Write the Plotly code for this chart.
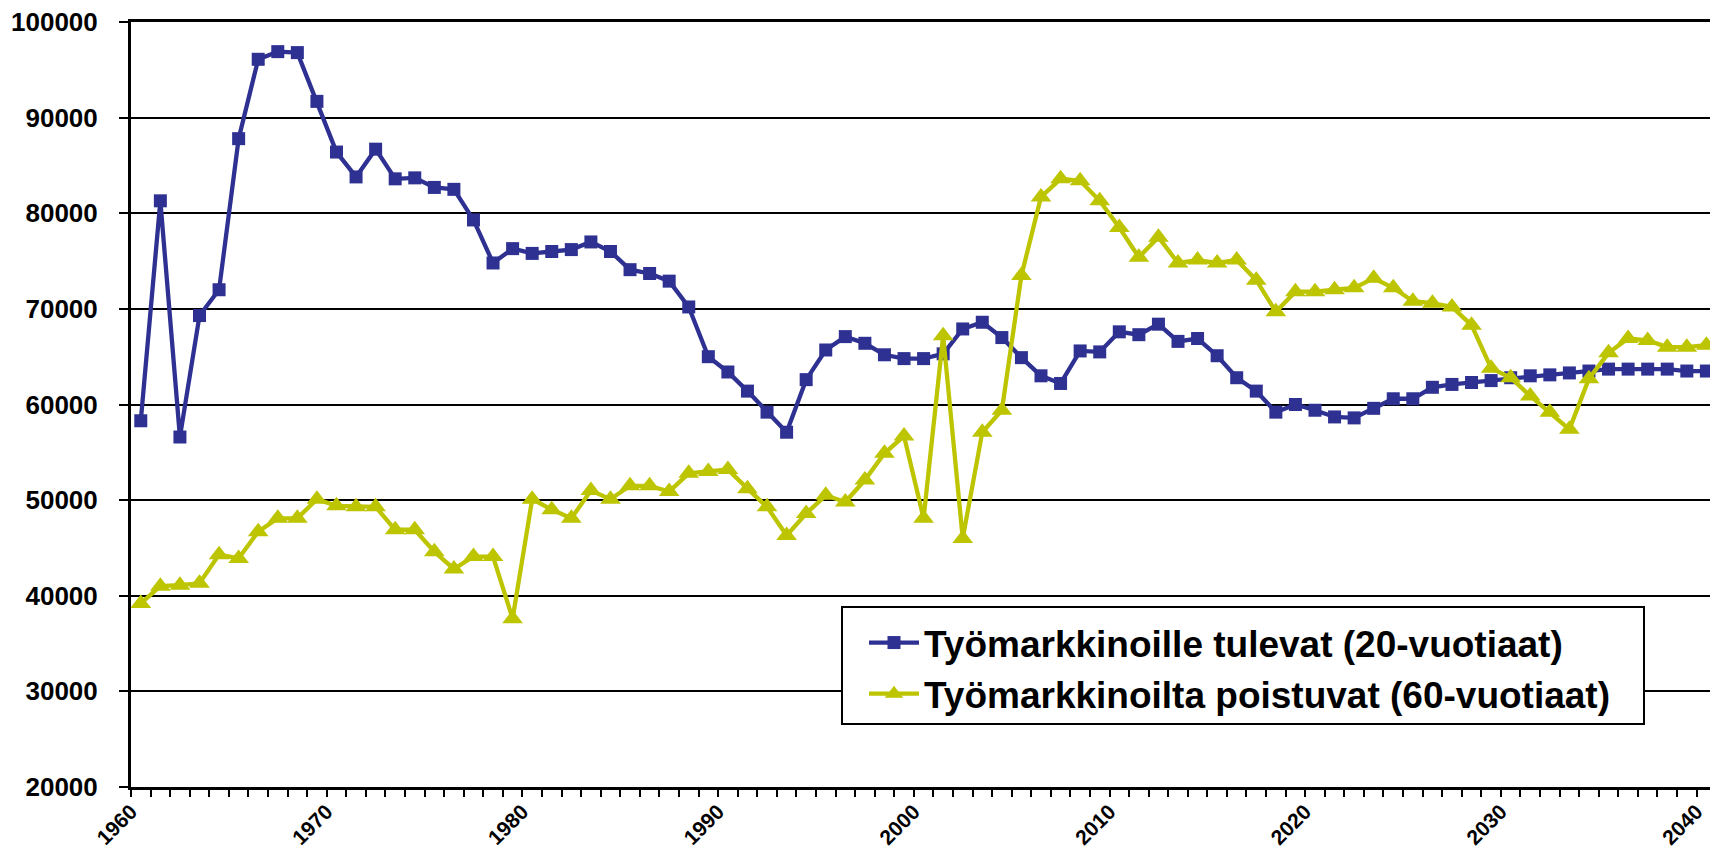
import plotly.graph_objects as go

# ---- data ----
years = list(range(1960, 2041))

tulevat_20 = [
    58300, 81300, 56600, 69300, 72000, 87800, 96100, 96900, 96800, 91700,   # 1960-1969
    86400, 83800, 86700, 83600, 83700, 82700, 82500, 79300, 74800, 76300,   # 1970-1979
    75800, 76000, 76200, 77000, 76000, 74100, 73700, 72900, 70200, 65000,   # 1980-1989
    63400, 61400, 59200, 57100, 62600, 65700, 67100, 66400, 65200, 64800,   # 1990-1999
    64800, 65300, 67900, 68600, 67000, 64900, 63000, 62200, 65600, 65500,   # 2000-2009
    67600, 67300, 68400, 66600, 66900, 65100, 62800, 61400, 59200, 60000,   # 2010-2019
    59400, 58700, 58600, 59600, 60600, 60600, 61800, 62100, 62300, 62500,   # 2020-2029
    62800, 63000, 63100, 63300, 63500, 63700, 63700, 63700, 63700, 63500,   # 2030-2039
    63500,                                                                  # 2040
]

poistuvat_60 = [
    39200, 41000, 41100, 41300, 44300, 43900, 46700, 48100, 48100, 50100,   # 1960-1969
    49400, 49300, 49300, 46900, 46900, 44600, 42800, 44100, 44100, 37600,   # 1970-1979
    50100, 49000, 48100, 51000, 50100, 51500, 51500, 50900, 52800, 53000,   # 1980-1989
    53200, 51200, 49300, 46300, 48600, 50500, 49800, 52100, 54900, 56700,   # 1990-1999
    48100, 67200, 46000, 57100, 59400, 73500, 81700, 83600, 83400, 81300,   # 2000-2009
    78500, 75400, 77500, 74800, 75100, 74800, 75100, 73000, 69700, 71800,   # 2010-2019
    71800, 72000, 72200, 73200, 72200, 70800, 70600, 70200, 68300, 63800,   # 2020-2029
    62800, 60900, 59200, 57400, 62700, 65400, 66900, 66700, 66000, 66000,   # 2030-2039
    66200,                                                                  # 2040
]

series_names = ["Työmarkkinoille tulevat (20-vuotiaat)",
                "Työmarkkinoilta poistuvat (60-vuotiaat)"]
decade_labels = list(range(1960, 2050, 10))
y_ticks = list(range(20000, 100001, 10000))

BLUE = "#2E3192"
OLIVE = "#BDC400"
FONT = "Liberation Sans, Arial, sans-serif"

W, H = 1710, 854
L, R, T, B = 131, 0, 22, 67
px_per_year = 19.57

fig = go.Figure()
fig.add_trace(go.Scatter(
    x=years, y=tulevat_20, mode="lines+markers", name=series_names[0],
    line=dict(color=BLUE, width=4.3),
    marker=dict(symbol="square", size=13, color=BLUE, line=dict(width=0)),
))
fig.add_trace(go.Scatter(
    x=years, y=poistuvat_60, mode="lines+markers", name=series_names[1],
    line=dict(color=OLIVE, width=4.3),
    marker=dict(symbol="triangle-up", size=18, color=OLIVE, line=dict(width=0)),
))

# category boundaries carry the tick marks; decade labels sit on boundaries
bounds = [y - 0.5 for y in range(years[0], years[-1] + 2)]
bound_text = [str(y) if y in decade_labels else "" for y in range(years[0], years[-1] + 2)]

x0 = years[0] - 0.5
x1 = x0 + (W - L - R) / px_per_year

fig.update_xaxes(
    range=[x0, x1], automargin=False,
    tickmode="array", tickvals=bounds, ticktext=bound_text,
    tickangle=-45,
    ticks="outside", ticklen=7, tickwidth=1.5, tickcolor="black",
    tickfont=dict(family=FONT, size=21, color="black", weight="bold"),
    ticklabelstandoff=-6,
    showgrid=False, zeroline=False,
    showline=True, linecolor="black", linewidth=3, mirror=True,
)
fig.update_yaxes(
    range=[20000, 100000], automargin=False,
    tickmode="array", tickvals=y_ticks, tickformat="d",
    ticks="outside", ticklen=9, tickwidth=2, tickcolor="black",
    tickfont=dict(family=FONT, size=26, color="black", weight="bold"),
    ticklabelstandoff=16,
    showgrid=True, gridcolor="#000000", gridwidth=1.6,
    zeroline=False,
    showline=True, linecolor="black", linewidth=3,
)

plot_w = W - L - R
plot_h = H - T - B
def px_x(p):
    return (p - L) / plot_w
def px_y(p):
    return (H - B - p) / plot_h

# legend frame
fig.add_shape(type="rect", xref="paper", yref="paper",
              x0=px_x(842), x1=px_x(1644), y0=px_y(724), y1=px_y(607),
              line=dict(color="black", width=2), fillcolor="white", layer="above")

fig.update_layout(
    width=W, height=H,
    margin=dict(l=L, r=R, t=T, b=B, pad=0, autoexpand=False),
    paper_bgcolor="white", plot_bgcolor="white",
    font=dict(family=FONT, color="black"),
    showlegend=True,
    legend=dict(
        x=px_x(864), y=px_y(612), xanchor="left", yanchor="top",
        bgcolor="rgba(0,0,0,0)", borderwidth=0,
        font=dict(family=FONT, size=37, color="black", weight="bold"),
        itemwidth=50, tracegroupgap=0,
    ),
)

fig.write_html(
    "out.html",
    config={"displayModeBar": False},
    post_script="document.body.style.margin='0';document.body.style.overflow='hidden';",
)
